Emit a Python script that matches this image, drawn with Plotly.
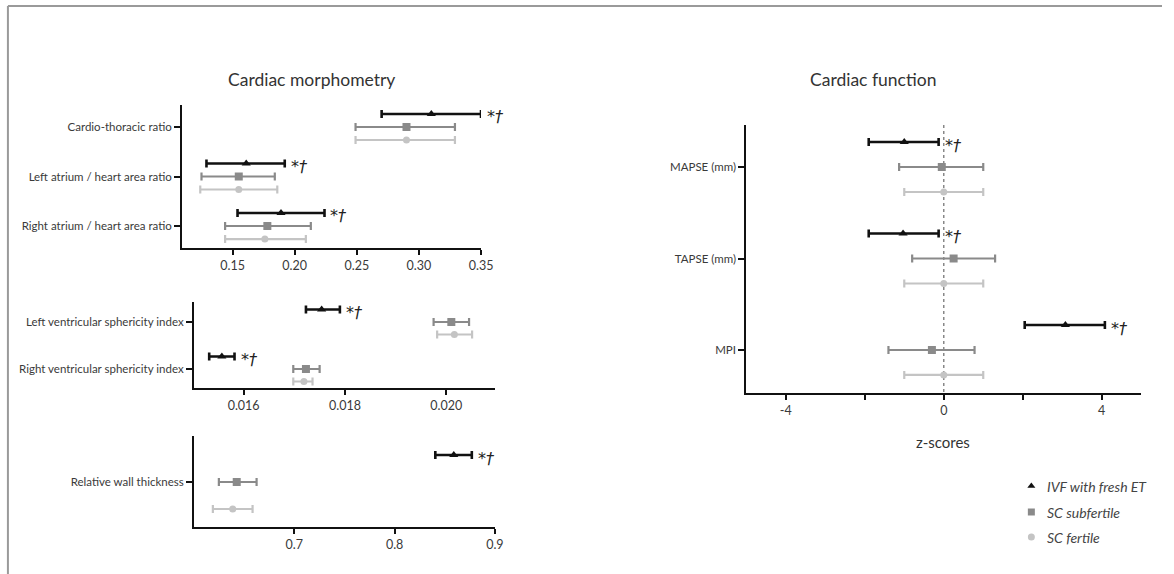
import plotly.graph_objects as go

W, H = 1174, 574

# ---- data -------------------------------------------------------------
groups = ["IVF with fresh ET", "SC subfertile", "SC fertile"]
colors = ["#111111", "#8a8a8a", "#c4c4c4"]
symbols = ["triangle-up", "square", "circle"]
marker_sizes = [8, 8, 7]
bar_widths = [2.6, 2.2, 2.2]

# Morphometry: ratios
ratio_labels = ["Cardio-thoracic ratio", "Left atrium / heart area ratio",
                "Right atrium / heart area ratio"]
ratio_mean = [[0.310, 0.161, 0.189], [0.290, 0.155, 0.178], [0.290, 0.155, 0.176]]
ratio_low = [[0.270, 0.129, 0.154], [0.249, 0.125, 0.144], [0.249, 0.124, 0.144]]
ratio_high = [[0.350, 0.192, 0.224], [0.329, 0.184, 0.213], [0.329, 0.186, 0.209]]

# Morphometry: sphericity indices
sph_labels = ["Left ventricular sphericity index", "Right ventricular sphericity index"]
sph_mean = [[0.01754, 0.01557], [0.02010, 0.01723], [0.02016, 0.01719]]
sph_low = [[0.01723, 0.01532], [0.01975, 0.01698], [0.01982, 0.01698]]
sph_high = [[0.01790, 0.01582], [0.02045, 0.01750], [0.02051, 0.01736]]

# Morphometry: wall thickness
rwt_labels = ["Relative wall thickness"]
rwt_mean = [[0.859], [0.6426], [0.6386]]
rwt_low = [[0.8406], [0.6248], [0.6188]]
rwt_high = [[0.877], [0.6624], [0.6584]]

# Function: z-scores
fn_labels = ["MAPSE (mm)", "TAPSE (mm)", "MPI"]
fn_mean = [[-1.00, -1.03, 3.08], [-0.05, 0.25, -0.30], [0.0, 0.0, 0.0]]
fn_low = [[-1.90, -1.90, 2.05], [-1.13, -0.80, -1.40], [-1.0, -1.0, -1.0]]
fn_high = [[-0.13, -0.13, 4.08], [1.00, 1.30, 0.78], [1.0, 1.0, 1.0]]

sig_mark = "*<i>†</i>"

# ---- layout helpers ---------------------------------------------------
def px_dom_x(a, b):
    return [a / W, b / W]

def px_dom_y(top, bottom):
    return [1 - bottom / H, 1 - top / H]

FONT = "Lato, 'Open Sans', sans-serif"
SIG_FONT = "'DejaVu Sans', 'Liberation Sans', sans-serif"
TXT = "#3a3a3a"

fig = go.Figure()

panels = [
    dict(labels=ratio_labels, mean=ratio_mean, low=ratio_low, high=ratio_high,
         xd=(184, 486), yd=(105, 248), xr=[0.1094, 0.35],
         tv=[0.15, 0.20, 0.25, 0.30, 0.35], tt=None, fmt=".2f",
         off=0.263, yr=[2.444, -0.444]),
    dict(labels=sph_labels, mean=sph_mean, low=sph_low, high=sph_high,
         xd=(196, 500), yd=(302, 388), xr=[0.01502, 0.02096],
         tv=[0.016, 0.018, 0.020], tt=None, fmt=".3f",
         off=0.266, yr=[1.404, -0.426]),
    dict(labels=rwt_labels, mean=rwt_mean, low=rwt_low, high=rwt_high,
         xd=(196, 500), yd=(436, 527), xr=[0.60, 0.90],
         tv=[0.7, 0.8, 0.9], tt=None, fmt=".1f",
         off=0.5, yr=[0.833, -0.852]),
    dict(labels=fn_labels, mean=fn_mean, low=fn_low, high=fn_high,
         xd=(754, 1153), yd=(125, 393), xr=[-5.0, 5.0],
         tv=[-4, -2, 0, 2, 4], tt=["-4", "", "0", "", "4"], fmt=None,
         off=0.273, yr=[2.47, -0.459]),
]

for p_i, p in enumerate(panels):
    n = p_i + 1
    xa = "x" if n == 1 else f"x{n}"
    ya = "y" if n == 1 else f"y{n}"
    xkey = "xaxis" if n == 1 else f"xaxis{n}"
    ykey = "yaxis" if n == 1 else f"yaxis{n}"
    ncat = len(p["labels"])

    # light groups first so the darker bars sit on top
    for g in reversed(range(3)):
        ys = [c + (g - 1) * p["off"] for c in range(ncat)]
        m = p["mean"][g]
        plus = [h - v for h, v in zip(p["high"][g], m)]
        minus = [v - l for v, l in zip(m, p["low"][g])]
        fig.add_trace(go.Scatter(
            x=m, y=ys, xaxis=xa, yaxis=ya, mode="markers",
            marker=dict(symbol=symbols[g], size=marker_sizes[g], color=colors[g]),
            error_x=dict(type="data", array=plus, arrayminus=minus, symmetric=False,
                         color=colors[g], thickness=bar_widths[g], width=4),
            name=groups[g], showlegend=False, hoverinfo="skip", cliponaxis=False))

    # significance marks next to the first group's upper limit
    for c in range(ncat):
        fig.add_annotation(x=p["high"][0][c], y=c - p["off"], xref=xa, yref=ya,
                           text=sig_mark, showarrow=False, xanchor="left",
                           yanchor="middle", xshift=4, yshift=-3,
                           font=dict(family=SIG_FONT, size=16, color="#222222"))

    xaxis = dict(domain=px_dom_x(*p["xd"]), range=p["xr"], anchor=ya,
                 showline=True, linecolor="#111111", linewidth=2,
                 ticks="outside", ticklen=5, tickwidth=1.5, tickcolor="#111111",
                 tickvals=p["tv"], showgrid=False, zeroline=False,
                 tickfont=dict(family=FONT, size=12.5, color=TXT))
    if p["tt"] is not None:
        xaxis["ticktext"] = p["tt"]
    if p["fmt"] is not None:
        xaxis["tickformat"] = p["fmt"]
    yaxis = dict(domain=px_dom_y(*p["yd"]), range=p["yr"], anchor=xa,
                 showline=True, linecolor="#111111", linewidth=2,
                 ticks="outside", ticklen=6, tickwidth=1.5, tickcolor="#111111",
                 tickvals=list(range(ncat)), ticktext=p["labels"],
                 showgrid=False, zeroline=False,
                 tickfont=dict(family=FONT, size=11.5, color=TXT))
    fig.update_layout(**{xkey: xaxis, ykey: yaxis})

# dotted reference line at z = 0
fig.add_shape(type="line", xref="x4", yref="y4", x0=0, x1=0, y0=-0.459, y1=2.47,
              line=dict(color="#888888", width=1.5, dash="dot"), layer="below")

# axis title for the z-scores
fig.add_annotation(x=953 / W, y=1 - 442 / H, xref="paper", yref="paper",
                   text="z-scores", showarrow=False, xanchor="center", yanchor="middle",
                   font=dict(family=FONT, size=15, color="#333333"))

# panel titles
for t_text, t_x in [("Cardiac morphometry", 315), ("Cardiac function", 882)]:
    fig.add_annotation(x=t_x / W, y=1 - 80 / H, xref="paper", yref="paper",
                       text=t_text, showarrow=False, xanchor="center", yanchor="middle",
                       font=dict(family=FONT, size=17.5, color="#333333"))

# legend: markers on a full-page helper axis plus italic labels
legend_rows = [486, 512, 537]
for g in range(3):
    fig.add_trace(go.Scatter(
        x=[1042 / W], y=[1 - legend_rows[g] / H], xaxis="x5", yaxis="y5",
        mode="markers",
        marker=dict(symbol=symbols[g], size=7, color=colors[g]),
        showlegend=False, hoverinfo="skip"))
    fig.add_annotation(x=1056 / W, y=1 - legend_rows[g] / H, xref="paper", yref="paper",
                       text=f"<i>{groups[g]}</i>", showarrow=False, xanchor="left",
                       yanchor="middle",
                       font=dict(family=FONT, size=14, color="#444444"))

fig.update_layout(
    xaxis5=dict(domain=[0, 1], range=[0, 1], visible=False, anchor="y5"),
    yaxis5=dict(domain=[0, 1], range=[0, 1], visible=False, anchor="x5"),
)

# frame lines along the top and left edge
fig.add_shape(type="line", xref="paper", yref="paper", x0=8 / W, x1=1, y0=1 - 6 / H,
              y1=1 - 6 / H, line=dict(color="#9a9a9a", width=2))
fig.add_shape(type="line", xref="paper", yref="paper", x0=8 / W, x1=8 / W, y0=0,
              y1=1 - 6 / H, line=dict(color="#9a9a9a", width=2))

fig.update_layout(
    width=W, height=H, margin=dict(l=0, r=0, t=0, b=0),
    paper_bgcolor="white", plot_bgcolor="rgba(0,0,0,0)", showlegend=False,
    font=dict(family=FONT, color=TXT),
)

fig.write_html("out.html")
